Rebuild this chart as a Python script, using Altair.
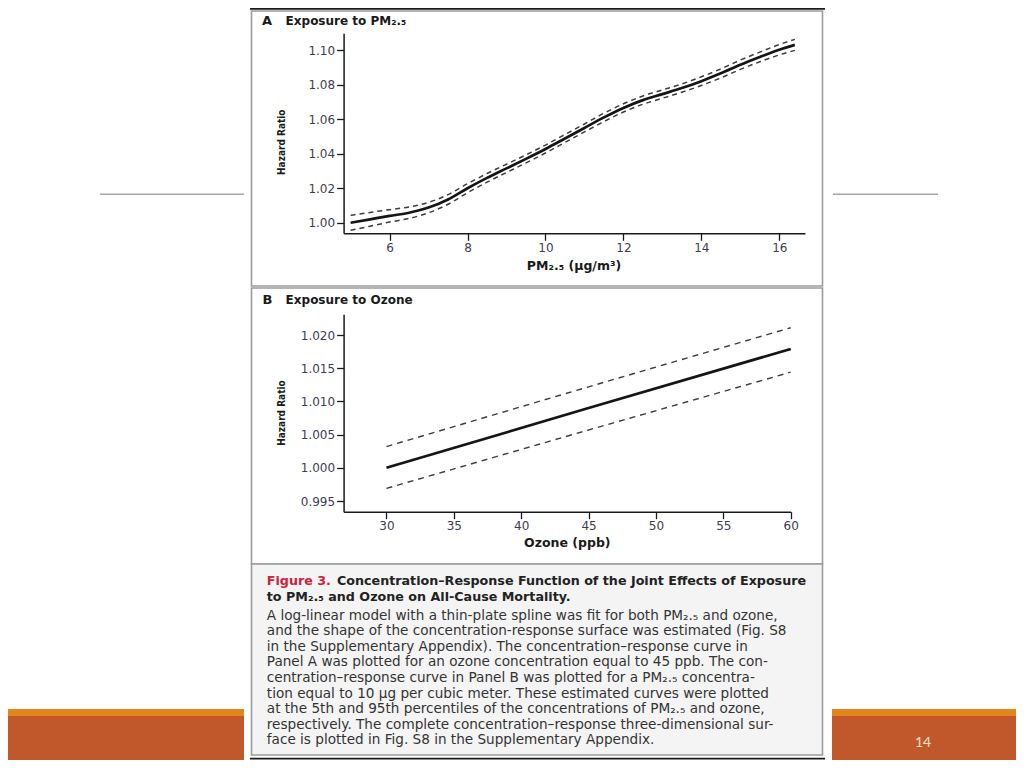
import altair as alt
import pandas as pd

# ---------------- data ----------------
pm25_x = [5.0, 5.5, 6.0, 6.5, 7.0, 7.5, 8.0, 8.5, 9.0, 9.5, 10.0, 10.5,
          11.0, 11.5, 12.0, 12.5, 13.0, 13.5, 14.0, 14.5, 15.0, 15.5, 16.0, 16.4]
pm25_hr = [1.0000, 1.0020, 1.0040, 1.0058, 1.0088, 1.0135, 1.0200, 1.0260,
           1.0315, 1.0370, 1.0427, 1.0488, 1.0549, 1.0610, 1.0665, 1.0710,
           1.0745, 1.0780, 1.0820, 1.0865, 1.0915, 1.0960, 1.1002, 1.1030]
pm25_upper = [1.0043, 1.0060, 1.0076, 1.0091, 1.0118, 1.0163, 1.0226, 1.0285,
              1.0339, 1.0393, 1.0450, 1.0511, 1.0572, 1.0634, 1.0689, 1.0734,
              1.0769, 1.0804, 1.0845, 1.0891, 1.0942, 1.0988, 1.1032, 1.1062]
pm25_lower = [0.9957, 0.9980, 1.0004, 1.0025, 1.0058, 1.0107, 1.0174, 1.0235,
              1.0291, 1.0347, 1.0404, 1.0465, 1.0526, 1.0586, 1.0641, 1.0686,
              1.0721, 1.0756, 1.0795, 1.0839, 1.0888, 1.0932, 1.0972, 1.0998]

ozone_x = [30, 45, 60]
ozone_hr = [1.0000, 1.0090, 1.0179]
ozone_upper = [1.0032, 1.0122, 1.0211]
ozone_lower = [0.9969, 1.0057, 1.0144]

pm25_xticks = [6, 8, 10, 12, 14, 16]
pm25_yticks = [1.00, 1.02, 1.04, 1.06, 1.08, 1.10]
ozone_xticks = [30, 35, 40, 45, 50, 55, 60]
ozone_yticks = [0.995, 1.000, 1.005, 1.010, 1.015, 1.020]

pm25_xdomain = [4.82, 16.66]
pm25_ydomain = [0.9939, 1.1097]
ozone_xdomain = [26.82, 60.0]
ozone_ydomain = [0.99339, 1.02312]

panel_a_title = "Exposure to PM\u2082.\u2085"
panel_b_title = "Exposure to Ozone"
pm25_xtitle = "PM\u2082.\u2085 (\u03bcg/m\u00b3)"
ozone_xtitle = "Ozone (ppb)"
ytitle = "Hazard Ratio"

caption_label = "Figure 3."
caption_title_1 = "Concentration\u2013Response Function of the Joint Effects of Exposure"
caption_title_2 = "to PM\u2082.\u2085 and Ozone on All-Cause Mortality."
caption_body = [
    "A log-linear model with a thin-plate spline was fit for both PM\u2082.\u2085 and ozone,",
    "and the shape of the concentration-response surface was estimated (Fig. S8",
    "in the Supplementary Appendix). The concentration\u2013response curve in",
    "Panel A was plotted for an ozone concentration equal to 45 ppb. The con-",
    "centration\u2013response curve in Panel B was plotted for a PM\u2082.\u2085 concentra-",
    "tion equal to 10 \u03bcg per cubic meter. These estimated curves were plotted",
    "at the 5th and 95th percentiles of the concentrations of PM\u2082.\u2085 and ozone,",
    "respectively. The complete concentration\u2013response three-dimensional sur-",
    "face is plotted in Fig. S8 in the Supplementary Appendix.",
]
page_number = "14"

# ---------------- layout ----------------
W, H = 1008, 752
A_X0, A_X1, A_YB, A_YT = 335.6, 797.0, 225.3, 25.3
B_X0, B_X1, B_YB, B_YT = 335.6, 782.7, 503.7, 306.3

dummy = pd.DataFrame({"k": [0]})


def rect(x, y, x2, y2, fill, stroke=None, sw=0):
    kw = dict(fill=fill)
    if stroke:
        kw.update(stroke=stroke, strokeWidth=sw)
    return alt.Chart(dummy).mark_rect(**kw).encode(
        x=alt.value(x), x2=alt.value(x2), y=alt.value(y), y2=alt.value(y2))


def hline(x, x2, y, color, sw):
    return alt.Chart(dummy).mark_rule(color=color, strokeWidth=sw).encode(
        x=alt.value(x), x2=alt.value(x2), y=alt.value(y))


def label(txt, x, y, size, color, font="DejaVu Sans", weight="normal",
          align="left", baseline="alphabetic", lh=None):
    kw = dict(font=font, fontSize=size, fontWeight=weight, color=color,
              align=align, baseline=baseline)
    if lh:
        kw["lineHeight"] = lh
    return alt.Chart(dummy).mark_text(**kw).encode(
        x=alt.value(x), y=alt.value(y), text=alt.value(txt))


decor = [
    # slide decorations
    hline(92, 236, 186.3, "#a6a6a6", 1.5),
    hline(825, 930, 186.3, "#a6a6a6", 1.5),
    rect(0, 701, 236, H, "#c0582b"),
    rect(824, 701, W, H, "#c0582b"),
    rect(0, 701, 236, 708, "#e2861c"),
    rect(824, 701, W, 708, "#e2861c"),
    # figure frame
    rect(236.5, 0, 823.5, H, "#ffffff"),
    hline(242, 817, 0.9, "#1a1a1a", 1.8),
    rect(243.5, 3, 814.5, 278, "#ffffff", "#9c9c9c", 1.6),
    rect(243.5, 280, 814.5, 556, "#ffffff", "#9c9c9c", 1.6),
    rect(243.5, 556, 814.5, 747, "#f4f4f4", "#9c9c9c", 1.6),
    hline(242, 817, 750.6, "#1a1a1a", 1.8),
]

# ---------------- panel A ----------------
pm_main = pd.DataFrame({"x": pm25_x, "hr": pm25_hr})
pm_band = pd.DataFrame({
    "x": pm25_x + pm25_x,
    "hr": pm25_upper + pm25_lower,
    "band": ["upper"] * len(pm25_x) + ["lower"] * len(pm25_x),
})

xA = alt.X("x:Q",
           scale=alt.Scale(domain=pm25_xdomain, range=[A_X0, A_X1], nice=False, zero=False),
           axis=alt.Axis(orient="bottom", offset=A_YB - H, values=pm25_xticks, format="d",
                         title=pm25_xtitle, titleX=565.5, titleY=31.7, zindex=1,
                         titleAlign="center", titleBaseline="middle", titleFontSize=12.5))
yA = alt.Y("hr:Q",
           scale=alt.Scale(domain=pm25_ydomain, range=[A_YB, A_YT], nice=False, zero=False),
           axis=alt.Axis(orient="left", offset=-A_X0, values=pm25_yticks, format=".2f",
                         title=ytitle, titleX=-62, titleY=133.7, titleAngle=270, zindex=1,
                         titleFont="DejaVu Sans Condensed",
                         titleAlign="center", titleBaseline="middle", titleFontSize=10))

panel_a = alt.layer(
    alt.Chart(pm_band).mark_line(color="#3c3c3c", strokeWidth=1.5, strokeDash=[5, 4],
                                 interpolate="monotone").encode(xA, yA, detail="band:N"),
    alt.Chart(pm_main).mark_line(color="#151515", strokeWidth=2.7,
                                 interpolate="monotone").encode(xA, yA),
)

# ---------------- panel B ----------------
oz_main = pd.DataFrame({"x": ozone_x, "hr": ozone_hr})
oz_band = pd.DataFrame({
    "x": ozone_x + ozone_x,
    "hr": ozone_upper + ozone_lower,
    "band": ["upper"] * len(ozone_x) + ["lower"] * len(ozone_x),
})

xB = alt.X("x:Q",
           scale=alt.Scale(domain=ozone_xdomain, range=[B_X0, B_X1], nice=False, zero=False),
           axis=alt.Axis(orient="bottom", offset=B_YB - H, values=ozone_xticks, format="d",
                         title=ozone_xtitle, titleX=558.8, titleY=31, zindex=1,
                         titleAlign="center", titleBaseline="middle", titleFontSize=12.5))
yB = alt.Y("hr:Q",
           scale=alt.Scale(domain=ozone_ydomain, range=[B_YB, B_YT], nice=False, zero=False),
           axis=alt.Axis(orient="left", offset=-B_X0, values=ozone_yticks, format=".3f",
                         title=ytitle, titleX=-62, titleY=404.5, titleAngle=270, zindex=1,
                         titleFont="DejaVu Sans Condensed",
                         titleAlign="center", titleBaseline="middle", titleFontSize=10))

panel_b = alt.layer(
    alt.Chart(oz_band).mark_line(color="#3c3c3c", strokeWidth=1.4, strokeDash=[6, 5]).encode(
        xB, yB, detail="band:N"),
    alt.Chart(oz_main).mark_line(color="#151515", strokeWidth=2.7).encode(xB, yB),
)

# ---------------- texts ----------------
texts = [
    label("A", 254, 17, 13, "#1a1a1a", weight="bold"),
    label(panel_a_title, 277.6, 17, 12, "#1a1a1a", weight="bold"),
    label("B", 254.5, 296, 13, "#1a1a1a", weight="bold"),
    label(panel_b_title, 277.6, 296, 12, "#1a1a1a", weight="bold"),
    label(caption_label, 258.8, 577, 12.7, "#d0213a", weight="bold"),
    label(caption_title_1, 329, 577, 12.7, "#222222", weight="bold"),
    label(caption_title_2, 258.8, 592.5, 12.7, "#222222", weight="bold"),
    label(caption_body, 258.8, 611.5, 13.6, "#333333", lh=15.6),
    label(page_number, 915, 735, 14, "#f4e2cf", font="Lato", align="center", baseline="middle"),
]

chart = alt.layer(*decor, panel_a, panel_b, *texts).resolve_scale(
    x="independent", y="independent"
).properties(
    width=W, height=H, padding=0, autosize=alt.AutoSizeParams(type="none")
).configure_view(stroke=None).configure_axis(
    grid=False, labelFlush=False, labelFont="DejaVu Sans", labelFontSize=12,
    labelColor="#3d3d4f", labelPadding=2, domainColor="#1a1a1a", domainWidth=1.5,
    tickColor="#1a1a1a", tickWidth=1.3, tickSize=7, titleFont="DejaVu Sans",
    titleFontWeight="bold", titleColor="#1a1a1a",
)

chart.save("out.html", embed_options={"renderer": "svg", "actions": False})
